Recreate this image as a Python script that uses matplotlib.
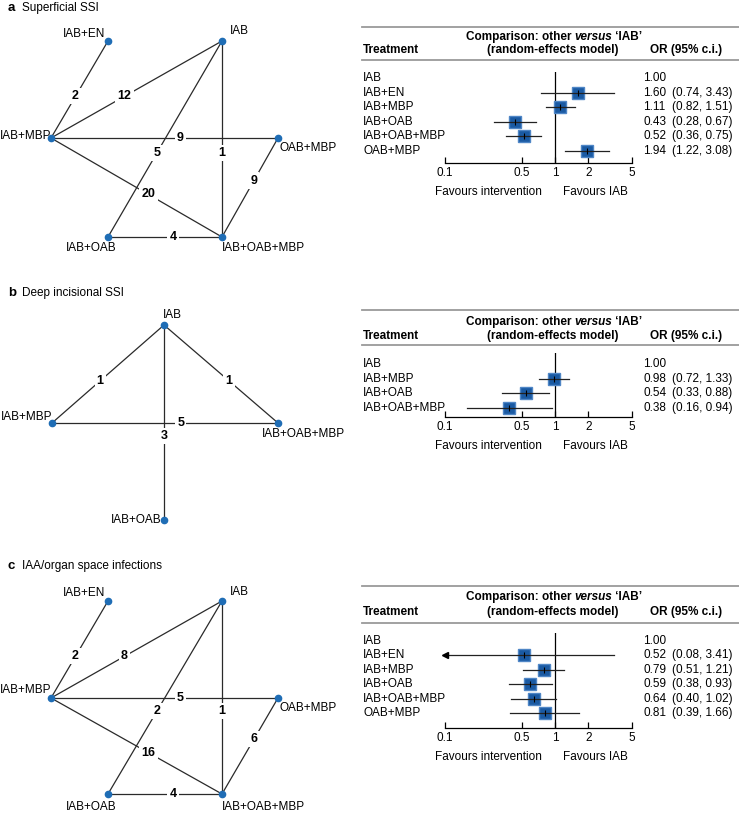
import numpy as np
import matplotlib
matplotlib.use('Agg')
import matplotlib.pyplot as plt
from matplotlib.transforms import blended_transform_factory

plt.rcParams['font.family'] = ['Liberation Sans', 'DejaVu Sans']

W, H = 739, 814
FS = 8.5

# ---------------- data ----------------
# a: superficial SSI
a_names = ['IAB', 'IAB+EN', 'IAB+MBP', 'IAB+OAB', 'IAB+OAB+MBP', 'OAB+MBP']
a_or = [1.00, 1.60, 1.11, 0.43, 0.52, 1.94]
a_lo = [np.nan, 0.74, 0.82, 0.28, 0.36, 1.22]
a_hi = [np.nan, 3.43, 1.51, 0.67, 0.75, 3.08]
a_edges = [('IAB+EN', 'IAB+MBP'), ('IAB', 'IAB+MBP'), ('IAB+MBP', 'OAB+MBP'),
           ('IAB', 'IAB+OAB'), ('IAB', 'IAB+OAB+MBP'), ('IAB+MBP', 'IAB+OAB+MBP'),
           ('IAB+OAB+MBP', 'OAB+MBP'), ('IAB+OAB', 'IAB+OAB+MBP')]
a_counts = [2, 12, 9, 5, 1, 20, 9, 4]

# b: deep incisional SSI
b_names = ['IAB', 'IAB+MBP', 'IAB+OAB', 'IAB+OAB+MBP']
b_or = [1.00, 0.98, 0.54, 0.38]
b_lo = [np.nan, 0.72, 0.33, 0.16]
b_hi = [np.nan, 1.33, 0.88, 0.94]
b_edges = [('IAB', 'IAB+MBP'), ('IAB', 'IAB+OAB+MBP'), ('IAB+MBP', 'IAB+OAB+MBP'),
           ('IAB', 'IAB+OAB')]
b_counts = [1, 1, 5, 3]

# c: IAA/organ space infections
c_names = ['IAB', 'IAB+EN', 'IAB+MBP', 'IAB+OAB', 'IAB+OAB+MBP', 'OAB+MBP']
c_or = [1.00, 0.52, 0.79, 0.59, 0.64, 0.81]
c_lo = [np.nan, 0.08, 0.51, 0.38, 0.40, 0.39]
c_hi = [np.nan, 3.41, 1.21, 0.93, 1.02, 1.66]
c_edges = a_edges
c_counts = [2, 8, 5, 2, 1, 16, 6, 4]

ticks = [0.1, 0.5, 1, 2, 5]
tick_labels = ['0.1', '0.5', '1', '2', '5']

# ---------------- layout (pixels) ----------------
# node: x, y, label dx, label dy, ha
lay_a = {'IAB+EN': (108, 41, -3, -7, 'right'),
         'IAB': (222, 41, 8, -10, 'left'),
         'IAB+MBP': (51, 138, 0, -2, 'right'),
         'OAB+MBP': (278, 138, 1, 10, 'left'),
         'IAB+OAB': (108, 237, -17, 11, 'center'),
         'IAB+OAB+MBP': (222, 237, 0, 11, 'left')}
lay_b = {'IAB': (164, 325, -1, -10, 'left'),
         'IAB+MBP': (52, 423, 0, -6, 'right'),
         'IAB+OAB+MBP': (278, 423, 25, 11, 'center'),
         'IAB+OAB': (164, 520, -2, 0, 'right')}
lay_c = {'IAB+EN': (108, 601, -3, -8, 'right'),
         'IAB': (222, 601, 8, -9, 'left'),
         'IAB+MBP': (51, 698, 0, -8, 'right'),
         'OAB+MBP': (278, 698, 1, 10, 'left'),
         'IAB+OAB': (108, 794, -17, 13, 'center'),
         'IAB+OAB+MBP': (222, 794, 0, 13, 'left')}

node_col = '#1f6db5'
sq_col = '#1a5aa3'
sq_edge = '#4f86c6'
rule_col = '#9a9a9a'

fig = plt.figure(figsize=(W / 100, H / 100), dpi=100)
ov = fig.add_axes([0, 0, 1, 1])
ov.set_xlim(0, W)
ov.set_ylim(H, 0)
ov.axis('off')
renderer = fig.canvas.get_renderer()


def title(letter, text, y):
    ov.text(8, y, letter, fontsize=9.5, weight='bold', va='center')
    ov.text(22, y, text, fontsize=FS, va='center')


def network(layout, edges, counts):
    for (n1, n2), k in zip(edges, counts):
        x1, y1 = layout[n1][:2]
        x2, y2 = layout[n2][:2]
        ov.plot([x1, x2], [y1, y2], color='#2a2a2a', lw=0.9, zorder=1)
        t = 0.57
        ov.text(x1 + t * (x2 - x1), y1 + t * (y2 - y1), str(k), ha='center', va='center',
                fontsize=9, weight='bold', zorder=2,
                bbox=dict(fc='white', ec='none', pad=1.5))
    for name, (x, y, dx, dy, ha) in layout.items():
        ov.plot(x, y, 'o', ms=4.5, color=node_col, zorder=3)
        ov.text(x + dx, y + dy, name, ha=ha, va='center', fontsize=FS, zorder=4)


def header(r1, h1, h2, r2):
    ov.plot([362, W], [r1, r1], color=rule_col, lw=1.3)
    ov.plot([362, W], [r2, r2], color=rule_col, lw=1.3)
    parts = [('Comparison: other ', 'normal'), ('versus', 'italic'), (' \u2018IAB\u2019', 'normal')]
    objs = [ov.text(0, h1, s, fontsize=FS, weight='bold', style=st, va='center') for s, st in parts]
    widths = [o.get_window_extent(renderer).width for o in objs]
    x = 554 - sum(widths) / 2
    for o, w in zip(objs, widths):
        o.set_x(x)
        x += w
    ov.text(553, h2, '(random-effects model)', fontsize=FS, weight='bold', ha='center', va='center')
    ov.text(363, h2, 'Treatment', fontsize=FS, weight='bold', va='center')
    ov.text(650, h2, 'OR (95% c.i.)', fontsize=FS, weight='bold', va='center')


def forest(names, orv, lo, hi, y0, sp, ytop, yaxis):
    ax = fig.add_axes([445 / W, 1 - yaxis / H, 187 / W, (yaxis - ytop) / H])
    ax.patch.set_visible(False)
    ax.set_xscale('log')
    ax.set_xlim(0.1, 5)
    ax.set_ylim((yaxis - y0) / sp, (ytop - y0) / sp)
    for s in ['top', 'right', 'left']:
        ax.spines[s].set_visible(False)
    ax.spines['bottom'].set_linewidth(0.9)
    ax.set_yticks([])
    ax.set_xticks(ticks)
    ax.set_xticklabels(tick_labels, fontsize=FS)
    ax.minorticks_off()
    ax.tick_params(axis='x', direction='in', length=4, width=0.9, pad=3)
    ax.axvline(1, color='k', lw=0.9)
    trans = blended_transform_factory(ov.transData, ax.transData)
    rows = np.arange(len(names))
    for i, name, v, l, h in zip(rows, names, orv, lo, hi):
        ax.text(363, i, name, transform=trans, fontsize=FS, va='center')
        ax.text(643, i, f'{v:.2f}', transform=trans, fontsize=FS, va='center')
        if np.isnan(l):
            continue
        ax.text(672, i, f'({l:.2f}, {h:.2f})', transform=trans, fontsize=FS, va='center')
        ax.plot(v, i, 's', ms=9, color=sq_col, mec=sq_edge, mew=1.0, zorder=2)
        ax.plot([max(l, 0.1), h], [i, i], color='#222222', lw=0.9, zorder=3, clip_on=False)
        ax.plot(v, i, '|', ms=4, color='k', mew=0.8, zorder=4)
        if l < 0.1:
            ax.plot(0.1, i, '<', ms=5, color='k', zorder=4, clip_on=False)
    ax.text(488, yaxis + 29, 'Favours intervention', transform=blended_transform_factory(ov.transData, ov.transData),
            fontsize=FS, ha='center', va='center')
    ax.text(595, yaxis + 29, 'Favours IAB', transform=blended_transform_factory(ov.transData, ov.transData),
            fontsize=FS, ha='center', va='center')
    return ax


title('a', 'Superficial SSI', 8)
network(lay_a, a_edges, a_counts)
header(27, 37, 50, 60)
forest(a_names, a_or, a_lo, a_hi, 78, 14.6, 72, 163)

title('b', 'Deep incisional SSI', 293)
network(lay_b, b_edges, b_counts)
header(310, 322, 336, 345)
forest(b_names, b_or, b_lo, b_hi, 364, 14.67, 353, 417)

title('c', 'IAA/organ space infections', 566)
network(lay_c, c_edges, c_counts)
header(586, 597, 612, 623)
forest(c_names, c_or, c_lo, c_hi, 641, 14.4, 633, 728)

fig.savefig('out.png', dpi=100)
